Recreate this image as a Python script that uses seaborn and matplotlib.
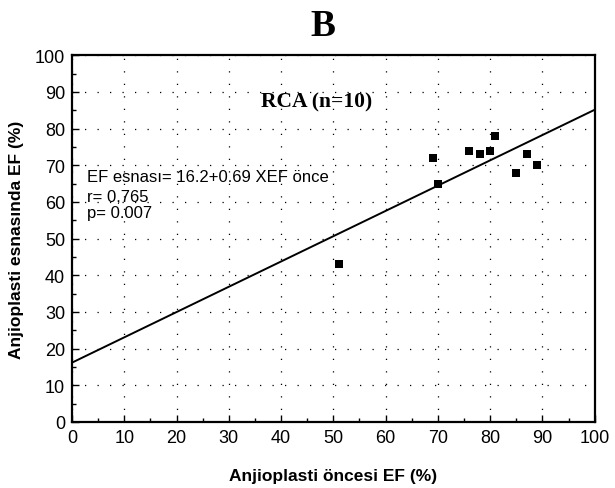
import matplotlib
matplotlib.use("Agg")
import matplotlib.pyplot as plt
import seaborn as sns
import pandas as pd
from matplotlib.ticker import MultipleLocator

# Data
ef_before = [51, 69, 70, 76, 78, 80, 81, 85, 87, 89]
ef_during = [43, 72, 65, 74, 73, 74, 78, 68, 73, 70]
x_ticks = [0, 10, 20, 30, 40, 50, 60, 70, 80, 90, 100]
y_ticks = [0, 10, 20, 30, 40, 50, 60, 70, 80, 90, 100]

df = pd.DataFrame({"before": ef_before, "during": ef_during})

sns.set_theme(style="white")
plt.rcParams['font.family'] = ['Liberation Sans', 'DejaVu Sans']

fig = plt.figure(figsize=(6.15, 4.89), dpi=100)
ax = fig.add_axes([0.117, 0.135, 0.850, 0.750])
ax.set_xlim(0, 100)
ax.set_ylim(0, 100)

sns.regplot(data=df, x="before", y="during", ax=ax, ci=None, truncate=False,
            marker="s",
            scatter_kws=dict(color="black", s=34, edgecolor="none", alpha=1, zorder=3),
            line_kws=dict(color="black", lw=1.4))
ax.set_xlim(0, 100)
ax.set_ylim(0, 100)

ax.set_xticks(x_ticks)
ax.set_yticks(y_ticks)
ax.xaxis.set_minor_locator(MultipleLocator(5))
ax.yaxis.set_minor_locator(MultipleLocator(5))
ax.tick_params(which="both", direction="in", color="black", top=False, right=False,
               bottom=True, left=True)
ax.tick_params(which="major", length=5, width=1, labelsize=13, pad=5)
ax.tick_params(which="minor", length=3, width=1)
for t in ax.get_xticklabels() + ax.get_yticklabels():
    t.set_color("black")

ax.grid(True, which="major", color="black", linestyle=(0, (1, 9)), linewidth=0.9)
for s in ax.spines.values():
    s.set_visible(True)
    s.set_color("black")
    s.set_linewidth(1.6)

ax.set_xlabel("Anjioplasti öncesi EF (%)", fontsize=12.5, fontweight="bold",
              color="black", labelpad=16)
ax.set_ylabel("Anjioplasti esnasında EF (%)", fontsize=12.5, fontweight="bold",
              color="black", labelpad=8)

ax.text(2.9, 67, "EF esnası= 16.2+0.69 XEF önce", fontsize=12, color="black",
        va="center", ha="left")
ax.text(2.9, 61.6, "r= 0,765", fontsize=12, color="black", va="center", ha="left")
ax.text(2.9, 57.2, "p= 0.007", fontsize=12, color="black", va="center", ha="left")

ax.text(46.8, 87.5, "RCA (n=10)", fontsize=15.5, fontweight="bold",
        family=["Liberation Serif", "DejaVu Serif"], color="black",
        ha="center", va="center")

fig.text(323 / 615, 1 - 27 / 489, "B", fontsize=27, fontweight="bold",
         family=["Liberation Serif", "DejaVu Serif"], color="black",
         ha="center", va="center")

fig.savefig("out.png", dpi=100, facecolor="white")
